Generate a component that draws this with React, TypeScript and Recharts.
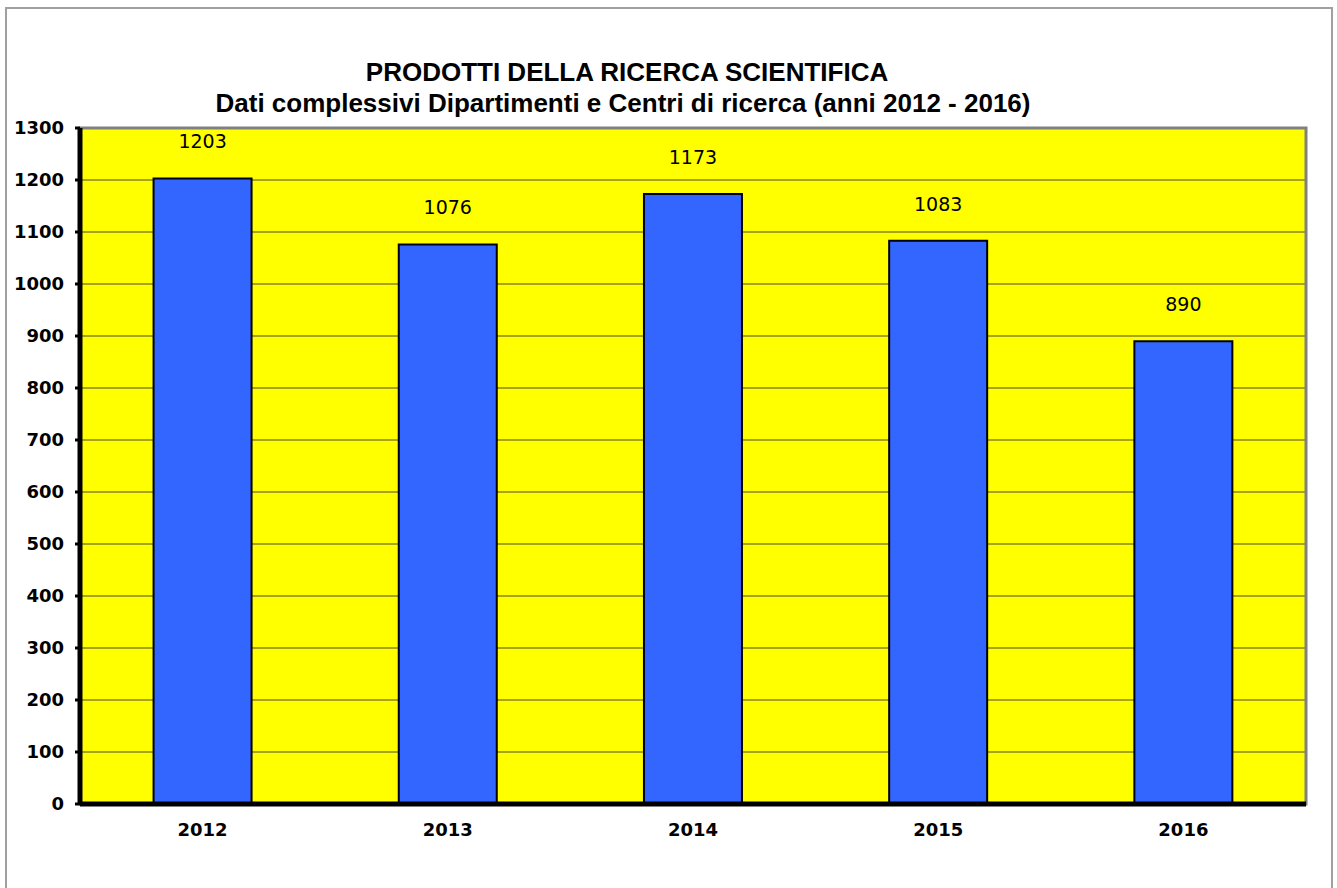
import React from "react";
import {
  Bar,
  BarChart,
  CartesianGrid,
  LabelList,
  ReferenceArea,
  XAxis,
  YAxis,
} from "recharts";

const years = ["2012", "2013", "2014", "2015", "2016"];
const prodotti = [1203, 1076, 1173, 1083, 890];
const yTicks = [0, 100, 200, 300, 400, 500, 600, 700, 800, 900, 1000, 1100, 1200, 1300];
const edgeTicks = [0, 1, 2, 3, 4, 5];

const data = years.map((anno, i) => ({ anno, prodotti: prodotti[i] }));

const tahoma = "'DejaVu Sans', Verdana, sans-serif";

export default function App() {
  return (
    <div
      style={{
        position: "absolute",
        left: 0,
        top: 0,
        width: 1337,
        height: 888,
        background: "#fff",
      }}
    >
      <div
        style={{
          position: "absolute",
          left: 5,
          top: 7,
          width: 1328,
          height: 890,
          border: "2px solid #a0a0a0",
          boxSizing: "border-box",
        }}
      />
      <div
        style={{
          position: "absolute",
          left: 0,
          top: 57,
          width: 1246,
          textAlign: "center",
          fontFamily: "'Liberation Sans', Arial, sans-serif",
          fontWeight: "bold",
          fontSize: 26,
          lineHeight: "31px",
          color: "#000",
        }}
      >
        <div style={{ paddingLeft: 8 }}>PRODOTTI DELLA RICERCA SCIENTIFICA</div>
        <div>Dati complessivi Dipartimenti e Centri di ricerca (anni 2012 - 2016)</div>
      </div>
      <BarChart
        width={1337}
        height={888}
        data={data}
        margin={{ top: 128, right: 31, left: 0, bottom: 44 }}
        barCategoryGap="30%"
        style={{ position: "absolute", left: 0, top: 0 }}
      >
        <CartesianGrid
          vertical={false}
          fill="#ffff00"
          fillOpacity={1}
          stroke="#4a4a30"
          strokeWidth={1}
        />
        <ReferenceArea
          xAxisId="cat"
          y1={0}
          y2={1300}
          fill="none"
          stroke="#808080"
          strokeWidth={3}
        />
        <XAxis
          xAxisId="edges"
          type="number"
          domain={[0, 5]}
          ticks={edgeTicks}
          height={0}
          axisLine={false}
          tickLine={{ stroke: "#000", strokeWidth: 3 }}
          tickSize={6}
          tickFormatter={() => ""}
        />
        <XAxis
          xAxisId="cat"
          dataKey="anno"
          height={40}
          axisLine={{ stroke: "#000", strokeWidth: 5 }}
          tickLine={false}
          tickMargin={13}
          tick={{ fill: "#000", fontFamily: tahoma, fontWeight: "bold", fontSize: 18 }}
        />
        <YAxis
          width={80}
          domain={[0, 1300]}
          ticks={yTicks}
          interval={0}
          axisLine={{ stroke: "#000", strokeWidth: 5 }}
          tickLine={{ stroke: "#000", strokeWidth: 3 }}
          tickSize={5}
          tickMargin={11}
          tick={{ fill: "#000", fontFamily: tahoma, fontWeight: "bold", fontSize: 18 }}
        />
        <Bar
          xAxisId="cat"
          dataKey="prodotti"
          fill="#3366ff"
          stroke="#000"
          strokeWidth={2}
          isAnimationActive={false}
        >
          <LabelList
            dataKey="prodotti"
            position="top"
            offset={30}
            fill="#000"
            fontFamily={tahoma}
            fontSize={19}
          />
        </Bar>
      </BarChart>
    </div>
  );
}
